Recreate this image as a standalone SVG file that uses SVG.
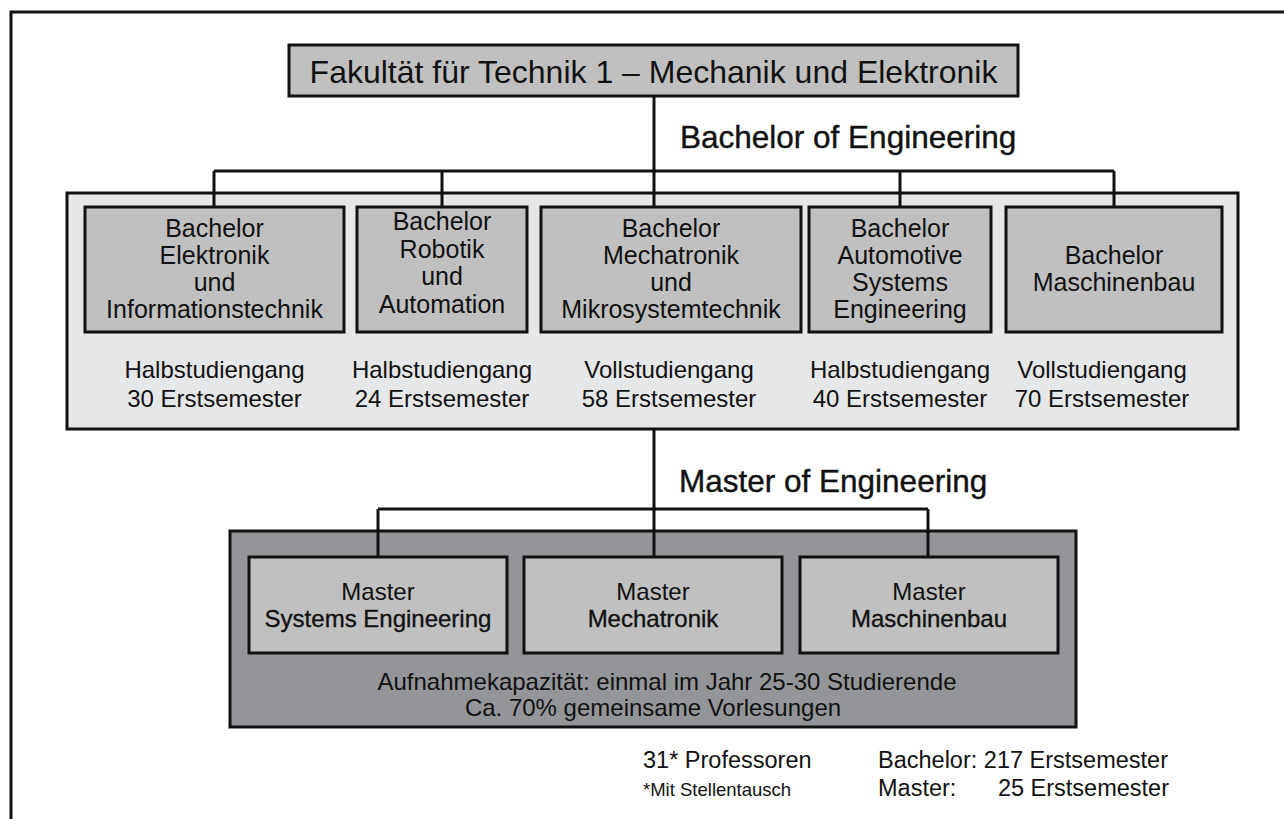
<svg xmlns="http://www.w3.org/2000/svg" width="1284" height="819" viewBox="0 0 1284 819">
  <style>
    text { font-family: "Liberation Sans", Arial, sans-serif; fill: #111; }
    .box { fill: #c0c0c0; stroke: #111; stroke-width: 3; }
    .wire { fill: none; stroke: #111; stroke-width: 3; }
    .lbl { font-size: 25px; text-anchor: middle; }
    .sub { font-size: 24px; text-anchor: middle; }
    .head { font-size: 31.5px; stroke: #111; stroke-width: 0.4; }
    .em { stroke: #111; stroke-width: 0.35; }
    .foot { font-size: 23.5px; }
  </style>

  <rect width="1284" height="819" fill="#fff"/>
  <!-- page frame -->
  <polyline class="wire" points="11,819 11,12 1284,12"/>

  <!-- group panels -->
  <rect id="bachelor-panel" x="67" y="193" width="1171" height="236" fill="#e6e7e8" stroke="#111" stroke-width="3"/>
  <rect id="master-panel" x="230" y="531" width="846" height="196" fill="#939598" stroke="#111" stroke-width="3"/>

  <!-- connectors -->
  <g id="connectors">
    <line class="wire" x1="654" y1="96" x2="654" y2="171"/>
    <line class="wire" x1="214" y1="171" x2="1114" y2="171"/>
    <line class="wire" x1="214" y1="171" x2="214" y2="207"/>
    <line class="wire" x1="442" y1="171" x2="442" y2="207"/>
    <line class="wire" x1="654" y1="171" x2="654" y2="207"/>
    <line class="wire" x1="900" y1="171" x2="900" y2="207"/>
    <line class="wire" x1="1114" y1="171" x2="1114" y2="207"/>
    <line class="wire" x1="654" y1="429" x2="654" y2="509"/>
    <line class="wire" x1="378" y1="509" x2="928" y2="509"/>
    <line class="wire" x1="378" y1="509" x2="378" y2="557"/>
    <line class="wire" x1="654" y1="509" x2="654" y2="557"/>
    <line class="wire" x1="928" y1="509" x2="928" y2="557"/>
  </g>

  <!-- faculty -->
  <g id="faculty">
    <rect class="box" x="289" y="45" width="729" height="51"/>
    <text x="653.5" y="83" font-size="32" text-anchor="middle">Fakultät für Technik 1 – Mechanik und Elektronik</text>
  </g>

  <text class="head" x="680" y="148">Bachelor of Engineering</text>
  <text class="head" x="679" y="492">Master of Engineering</text>

  <!-- bachelor programmes -->
  <g id="b-elektronik">
    <rect class="box" x="85" y="207" width="259" height="125"/>
    <text class="lbl" x="214.5" y="237">Bachelor</text>
    <text class="lbl" x="214.5" y="264">Elektronik</text>
    <text class="lbl" x="214.5" y="291">und</text>
    <text class="lbl" x="214.5" y="318">Informationstechnik</text>
    <text class="sub" x="214.5" y="378">Halbstudiengang</text>
    <text class="sub" x="214.5" y="407">30 Erstsemester</text>
  </g>
  <g id="b-robotik">
    <rect class="box" x="357" y="207" width="170" height="125"/>
    <text class="lbl" x="442" y="230">Bachelor</text>
    <text class="lbl" x="442" y="258">Robotik</text>
    <text class="lbl" x="442" y="285">und</text>
    <text class="lbl" x="442" y="313">Automation</text>
    <text class="sub" x="442" y="378">Halbstudiengang</text>
    <text class="sub" x="442" y="407">24 Erstsemester</text>
  </g>
  <g id="b-mechatronik">
    <rect class="box" x="541" y="207" width="260" height="125"/>
    <text class="lbl" x="671" y="237">Bachelor</text>
    <text class="lbl" x="671" y="264">Mechatronik</text>
    <text class="lbl" x="671" y="291">und</text>
    <text class="lbl" x="671" y="318">Mikrosystemtechnik</text>
    <text class="sub" x="669" y="378">Vollstudiengang</text>
    <text class="sub" x="669" y="407">58 Erstsemester</text>
  </g>
  <g id="b-automotive">
    <rect class="box" x="809" y="207" width="182" height="125"/>
    <text class="lbl" x="900" y="237">Bachelor</text>
    <text class="lbl" x="900" y="264">Automotive</text>
    <text class="lbl" x="900" y="291">Systems</text>
    <text class="lbl" x="900" y="318">Engineering</text>
    <text class="sub" x="900" y="378">Halbstudiengang</text>
    <text class="sub" x="900" y="407">40 Erstsemester</text>
  </g>
  <g id="b-maschinenbau">
    <rect class="box" x="1006" y="207" width="216" height="125"/>
    <text class="lbl" x="1114" y="264">Bachelor</text>
    <text class="lbl" x="1114" y="291">Maschinenbau</text>
    <text class="sub" x="1102" y="378">Vollstudiengang</text>
    <text class="sub" x="1102" y="407">70 Erstsemester</text>
  </g>

  <!-- master programmes -->
  <g id="m-systems">
    <rect class="box" x="249" y="557" width="258" height="96"/>
    <text class="sub" x="378" y="600">Master</text>
    <text class="sub em" x="378" y="627">Systems Engineering</text>
  </g>
  <g id="m-mechatronik">
    <rect class="box" x="524" y="557" width="258" height="96"/>
    <text class="sub" x="653" y="600">Master</text>
    <text class="sub em" x="653" y="627">Mechatronik</text>
  </g>
  <g id="m-maschinenbau">
    <rect class="box" x="800" y="557" width="258" height="96"/>
    <text class="sub" x="929" y="600">Master</text>
    <text class="sub em" x="929" y="627">Maschinenbau</text>
  </g>

  <text class="sub" x="667" y="690">Aufnahmekapazität: einmal im Jahr 25-30 Studierende</text>
  <text class="sub" x="653" y="716">Ca. 70% gemeinsame Vorlesungen</text>

  <!-- key figures -->
  <g id="figures">
    <text class="foot" x="643" y="768">31* Professoren</text>
    <text x="643" y="796" font-size="18.5">*Mit Stellentausch</text>
    <text class="foot" x="878" y="768">Bachelor: 217 Erstsemester</text>
    <text class="foot" x="878" y="796">Master:</text>
    <text class="foot" x="1169" y="796" text-anchor="end">25 Erstsemester</text>
  </g>
</svg>
